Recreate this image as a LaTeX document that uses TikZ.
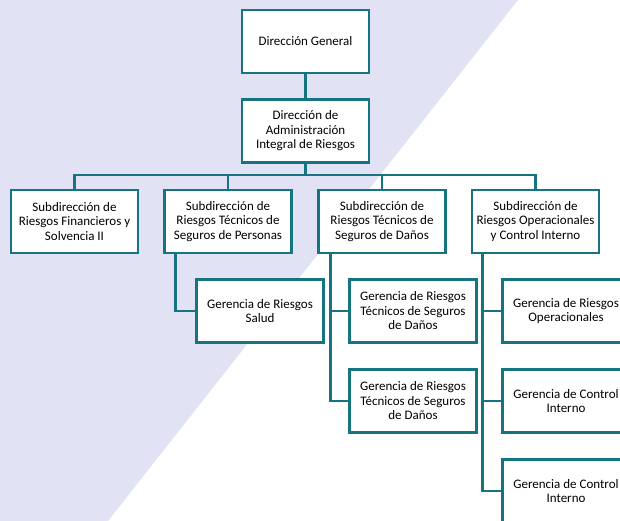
\documentclass[tikz,border=0pt]{standalone}
\usepackage{fontspec}
\setmainfont{Carlito}
\definecolor{teal1}{RGB}{22,116,128}
\definecolor{lav}{RGB}{225,226,243}
\begin{document}
\begin{tikzpicture}[x=1pt,y=-1pt,
  box/.style={draw=teal1,line width=2.6pt,fill=white,minimum width=127pt,minimum height=63pt,
    align=center,inner sep=1pt,font=\fontsize{13}{14.5}\selectfont},
  conn/.style={draw=teal1,line width=2.6pt}]
\useasboundingbox (0,0) rectangle (620,521);
\clip (0,0) rectangle (620,521);
\fill[lav] (0,0) -- (518,0) -- (108,521) -- (0,521) -- cycle;
% nodes
\node[box] (dg) at (305.5,41.5) {Dirección General};
\node[box] (dair) at (305.5,131) {Dirección de\\Administración\\Integral de Riesgos};
\node[box] (s1) at (74.5,221.5) {Subdirección de\\Riesgos Financieros y\\Solvencia II};
\node[box] (s2) at (228,221.5) {Subdirección de\\Riesgos Técnicos de\\Seguros de Personas};
\node[box] (s3) at (382,221.5) {Subdirección de\\Riesgos Técnicos de\\Seguros de Daños};
\node[box] (s4) at (535.5,221.5) {Subdirección de\\Riesgos Operacionales\\y Control Interno};
\node[box] (salud) at (260,311) {Gerencia de Riesgos\\Salud};
\node[box] (d1) at (413,311) {Gerencia de Riesgos\\Técnicos de Seguros\\de Daños};
\node[box] (d2) at (413,401) {Gerencia de Riesgos\\Técnicos de Seguros\\de Daños};
\node[box] (r1) at (566,311) {Gerencia de Riesgos\\Operacionales};
\node[box] (r2) at (566,401) {Gerencia de Control\\Interno};
\node[box] (r3) at (566,491) {Gerencia de Control\\Interno};
\coordinate (bus) at (305.5,175);
% connectors
\draw[conn] (dg.south) -- (dair.north);
\draw[conn] (dair.south) -- (bus);
\foreach \s in {s1,s2,s3,s4} \draw[conn] (bus) -| (\s.north);
\draw[conn] ([xshift=12.5pt]s2.south west) |- (salud.west);
\draw[conn] ([xshift=13pt]s3.south west) |- (d1.west);
\draw[conn] ([xshift=13pt]s3.south west) |- (d2.west);
\draw[conn] ([xshift=12pt]s4.south west) |- (r1.west);
\draw[conn] ([xshift=12pt]s4.south west) |- (r2.west);
\draw[conn] ([xshift=12pt]s4.south west) |- (r3.west);
\end{tikzpicture}
\end{document}
